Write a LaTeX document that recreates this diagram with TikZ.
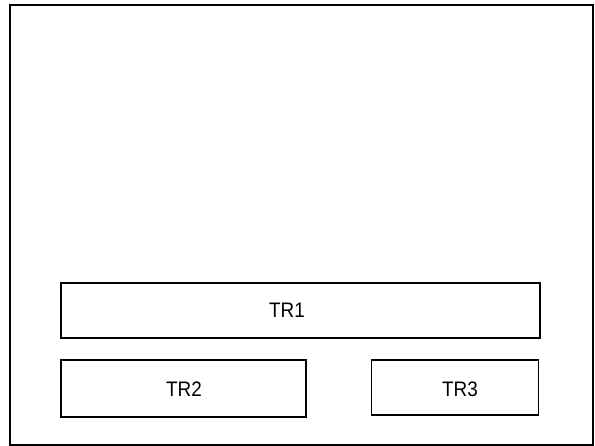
\documentclass[tikz,border=0pt]{standalone}
\usepackage{fontspec}
\setmainfont[FakeStretch=0.9]{Liberation Sans}
\begin{document}
\begin{tikzpicture}[x=1pt,y=1pt,
  box/.style={draw, line width=1.6pt, inner sep=0pt},
  lbl/.style={inner sep=0pt, font=\fontsize{21}{24}\selectfont}]
\useasboundingbox (0,0) rectangle (595,446);
\draw[line width=1.3pt] (10,441) rectangle (593,1);
\node[box, minimum width=479pt, minimum height=55pt] (tr1) at (300.5,135.5) {};
\node[box, minimum width=245pt, minimum height=57pt] (tr2) at (183.5,57.5) {};
\node[box, minimum width=167pt, minimum height=55pt] (tr3) at (455,58.5) {};
\node[lbl] (t1) at (287,136) {TR1};
\node[lbl] (t2) at (184,57) {TR2};
\node[lbl] (t3) at (460,57) {TR3};
\end{tikzpicture}
\end{document}
